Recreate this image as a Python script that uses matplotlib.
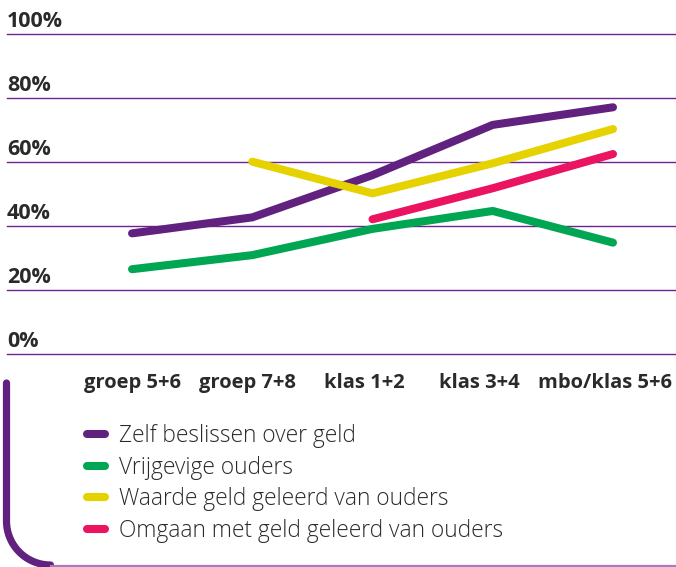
import numpy as np
import matplotlib
matplotlib.use('Agg')
import matplotlib.pyplot as plt
from matplotlib.transforms import blended_transform_factory, ScaledTranslation

categories = ['groep 5+6', 'groep 7+8', 'klas 1+2', 'klas 3+4', 'mbo/klas 5+6']
zelf = [37.7, 42.7, 55.9, 71.6, 77.1]
vrijgevig = [26.5, 30.9, 39.1, 44.7, 34.8]
waarde = [None, 60.1, 50.2, 59.6, 70.3]
omgaan = [None, None, 42.1, 51.8, 62.5]
y_ticks = [0, 20, 40, 60, 80, 100]
series_names = ['Zelf beslissen over geld', 'Vrijgevige ouders',
                'Waarde geld geleerd van ouders', 'Omgaan met geld geleerd van ouders']

colors = ['#61217f', '#00a651', '#e5d200', '#ea1460']
grid_col = '#6b2391'
txt_col = '#2b2a29'

plt.rcParams['font.family'] = ['Open Sans', 'DejaVu Sans']

W, H = 676, 567
fig = plt.figure(figsize=(W / 100, H / 100), dpi=100)
ax = fig.add_axes([7 / W, 213 / H, 1 - 7 / W, 320 / H])
ax.set_ylim(0, 100)
ax.set_xlim(-1.04, 4.524)
for s in ax.spines.values():
    s.set_visible(False)
ax.set_yticks([])

for v in y_ticks:
    ax.axhline(v, color=grid_col, lw=1.0, zorder=1, clip_on=False)
    ax.annotate(f'{v}%', xy=(0, v), xycoords=blended_transform_factory(ax.transAxes, ax.transData),
                xytext=(0, 1.5), textcoords='offset points', ha='left', va='bottom',
                fontsize=15.5, fontweight='bold', color=txt_col)

x = np.arange(len(categories))
for vals, c, name in zip([zelf, vrijgevig, waarde, omgaan], colors, series_names):
    y = np.array([np.nan if v is None else v for v in vals], dtype=float)
    ax.plot(x, y, color=c, lw=5.8, solid_capstyle='round', solid_joinstyle='round',
            label=name, zorder=3)

ax.set_xticks(x)
ax.set_xticklabels(categories, fontsize=14.5, fontweight='bold', color=txt_col)
ax.tick_params(axis='x', length=0, pad=14)
# nudge labels a bit left, like the original layout
for lab, dx in zip(ax.get_xticklabels(), [0, -5, -8, -13, -8]):
    lab.set_transform(lab.get_transform() + ScaledTranslation(dx / 100, 0, fig.dpi_scale_trans))

leg = fig.legend(loc='upper left', bbox_to_anchor=(87 / W, 1 - 424 / H), frameon=False,
                 handlelength=0.8, handletextpad=0.6, labelspacing=0.33,
                 prop={'size': 16.4, 'weight': 'light'}, labelcolor=txt_col,
                 borderaxespad=0, borderpad=0)

# bracket decoration bottom-left
ov = fig.add_axes([0, 0, 1, 1], zorder=-1)
ov.set_xlim(0, W)
ov.set_ylim(H, 0)
ov.axis('off')
t = np.linspace(np.pi, np.pi / 2, 40)
r = 44
cx, cy = 6.5 + r, 521
arc_x = cx + r * np.cos(t)
arc_y = cy + r * np.sin(t)
ov.plot(np.r_[6.5, arc_x], np.r_[383, arc_y], color='#61217f', lw=5.2,
        solid_capstyle='round')
ov.plot([cx, W], [565.5, 565.5], color='#a77cbf', lw=1.6)

fig.savefig('out.png', dpi=100)
